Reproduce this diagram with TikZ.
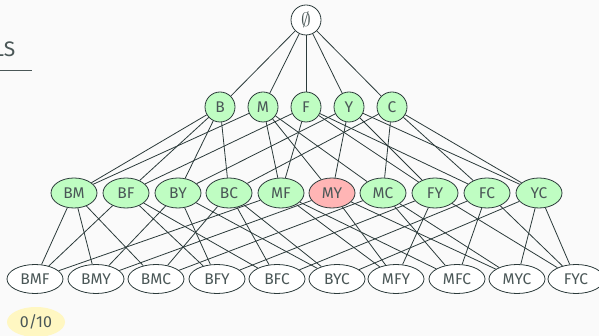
\documentclass[tikz,border=0pt]{standalone}
\usepackage{fontspec}
\setmainfont{Fira Sans}
\usetikzlibrary{shapes.geometric,backgrounds}
\definecolor{bg}{HTML}{FAFAFA}
\definecolor{ink}{HTML}{2B3A3A}
\definecolor{txt}{HTML}{4A5757}
\definecolor{gfill}{HTML}{BFFDC2}
\definecolor{rfill}{HTML}{FFB5B5}
\definecolor{yfill}{HTML}{FFF7C2}
\tikzset{
  base/.style={draw=ink, line width=0.8pt, text=txt, font=\fontsize{15.5}{17}\selectfont, inner sep=0pt},
  top/.style={base, circle, minimum size=30pt, fill=white},
  lone/.style={base, circle, minimum size=30pt, fill=gfill},
  pair/.style={base, ellipse, minimum width=46pt, minimum height=30pt, fill=gfill},
  pairred/.style={pair, fill=rfill},
  triple/.style={base, ellipse, minimum width=56pt, minimum height=29pt, fill=white},
  edge/.style={draw=ink, line width=0.8pt}
}
\begin{document}
\begin{tikzpicture}[x=1pt,y=-1pt]
\useasboundingbox (0,0) rectangle (599,336);
% heading fragment
\node[anchor=base east, text=txt, font=\fontsize{21}{23}\selectfont, inner sep=0pt] (hd) at (15.5,57) {LS};
\coordinate (ula) at (0,70);
\coordinate (ulb) at (32,70);
\draw[txt, line width=0.6pt] (ula) -- (ulb);
% badge
\node[ellipse, fill=yfill, minimum width=58pt, minimum height=30pt, inner sep=0pt, text=txt, font=\fontsize{16}{18}\selectfont] (badge) at (36,322) {0/10};
% nodes
\node[top] (E) at (306,20) {\scalebox{1.35}{$\emptyset$}};
\foreach \n/\x in {B/220,M/263,F/306,Y/349,C/392}
  \node[lone] (\n) at (\x,107) {\n};
\foreach \n/\x in {BM/74,BF/126,BY/178,BC/229,MF/281,MC/383,FY/435,FC/487,YC/539}
  \node[pair] (\n) at (\x,193) {\n};
\node[pairred] (MY) at (332,193) {MY};
\foreach \n/\x in {BMF/35,BMY/96,BMC/156,BFY/217,BFC/277,BYC/337,MFY/396,MFC/457,MYC/517,FYC/576}
  \node[triple] (\n) at (\x,279) {\n};
% edges
\begin{pgfonlayer}{background}
\fill[bg] (0,0) rectangle (599,336);
\foreach \a in {B,M,F,Y,C}
  \path[edge] (E) -- (\a);
\foreach \p/\a/\b in {BM/B/M,BF/B/F,BY/B/Y,BC/B/C,MF/M/F,MY/M/Y,MC/M/C,FY/F/Y,FC/F/C,YC/Y/C}
  {\path[edge] (\a) -- (\p); \path[edge] (\b) -- (\p);}
\foreach \t/\a/\b/\c in {BMF/BM/BF/MF,BMY/BM/BY/MY,BMC/BM/BC/MC,BFY/BF/BY/FY,BFC/BF/BC/FC,BYC/BY/BC/YC,MFY/MF/MY/FY,MFC/MF/MC/FC,MYC/MY/MC/YC,FYC/FY/FC/YC}
  {\path[edge] (\a) -- (\t); \path[edge] (\b) -- (\t); \path[edge] (\c) -- (\t);}
\end{pgfonlayer}
\end{tikzpicture}
\end{document}
